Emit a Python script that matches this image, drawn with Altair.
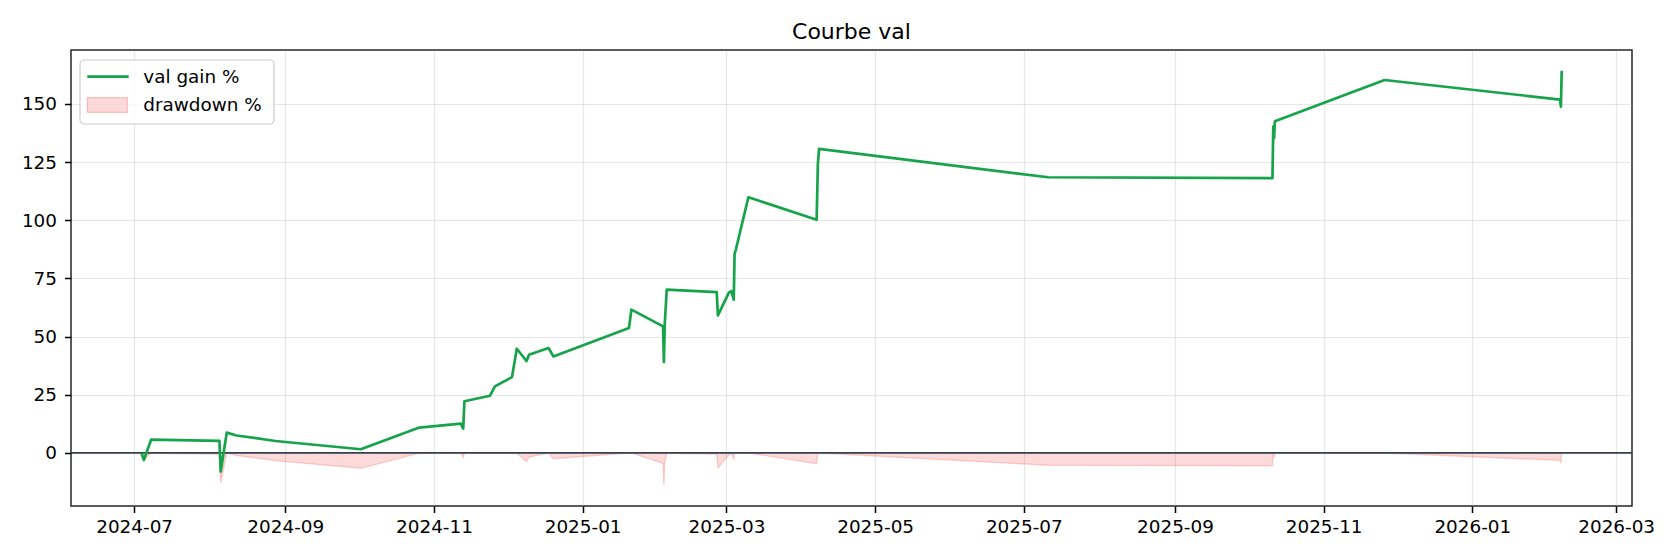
import altair as alt
import pandas as pd

# ---------------- data ----------------
dates = [
    "2024-07-04T00:00:00", "2024-07-05T00:00:00", "2024-07-08T00:00:00",
    "2024-08-05T00:00:00", "2024-08-05T12:00:00", "2024-08-08T00:00:00",
    "2024-08-12T00:00:00", "2024-08-28T00:00:00", "2024-10-02T00:00:00",
    "2024-10-26T00:00:00", "2024-11-12T00:00:00", "2024-11-13T00:00:00",
    "2024-11-13T12:00:00", "2024-11-24T00:00:00", "2024-11-26T00:00:00",
    "2024-12-03T00:00:00", "2024-12-05T00:00:00", "2024-12-09T00:00:00",
    "2024-12-10T00:00:00", "2024-12-18T00:00:00", "2024-12-20T00:00:00",
    "2025-01-20T00:00:00", "2025-01-21T00:00:00", "2025-02-03T00:00:00",
    "2025-02-03T08:00:00", "2025-02-03T16:00:00", "2025-02-04T12:00:00",
    "2025-02-25T00:00:00", "2025-02-25T12:00:00", "2025-03-02T00:00:00",
    "2025-03-03T00:00:00", "2025-03-04T00:00:00", "2025-03-04T08:00:00",
    "2025-03-04T20:00:00", "2025-03-10T00:00:00", "2025-04-07T00:00:00",
    "2025-04-07T12:00:00", "2025-04-08T00:00:00", "2025-07-11T00:00:00",
    "2025-10-11T00:00:00", "2025-10-11T08:00:00", "2025-10-11T16:00:00",
    "2025-10-12T00:00:00", "2025-11-26T00:00:00", "2026-02-06T00:00:00",
    "2026-02-06T08:00:00", "2026-02-06T16:00:00",
]
gain_pct = [
    0.0, -3.0, 5.75,
    5.15, -8.0, 8.75,
    7.5, 5.15, 1.6,
    10.9, 12.6, 10.5,
    22.2, 24.6, 28.6,
    32.6, 44.8, 39.5,
    42.2, 45.1, 41.5,
    53.7, 61.6, 54.4,
    39.1, 55.0, 70.2,
    69.1, 59.1, 68.9,
    69.6, 65.9, 85.6,
    87.3, 109.9, 100.2,
    124.3, 130.7, 118.5,
    118.1, 140.3, 135.3,
    142.6, 160.3, 151.9,
    148.9, 164.3,
]
drawdown_pct = [
    0.0, -3.0, 0.0,
    -0.6, -13.0, 0.0,
    -1.1, -3.3, -6.6,
    0.0, 0.0, -1.9,
    0.0, 0.0, 0.0,
    0.0, 0.0, -3.7,
    -1.8, 0.0, -2.5,
    0.0, 0.0, -4.5,
    -13.9, -4.0, 0.0,
    -0.6, -6.5, -0.8,
    -0.4, -2.5, 0.0,
    0.0, 0.0, -4.6,
    0.0, 0.0, -5.3,
    -5.5, 0.0, -2.1,
    0.0, 0.0, -3.2,
    -4.4, 0.0,
]
x_tick_labels = ["2024-07", "2024-09", "2024-11", "2025-01", "2025-03", "2025-05",
                 "2025-07", "2025-09", "2025-11", "2026-01", "2026-03"]
y_ticks = [0, 25, 50, 75, 100, 125, 150]
legend_labels = ["val gain %", "drawdown %"]
title_text = "Courbe val"

# ---------------- chart ----------------
FONT = "DejaVu Sans"
GREEN = "#16a34a"
RED = "#ef4444"
W, H = 1561, 456

df = pd.DataFrame({"date": dates, "gain": gain_pct, "dd": drawdown_pct})

x_domain = [alt.DateTime(year=2024, month=6, date=5, hours=2, minutes=24),
            alt.DateTime(year=2026, month=3, date=7, hours=12)]
x_vals = [alt.DateTime(year=int(s[:4]), month=int(s[5:]), date=1) for s in x_tick_labels]

x_enc = alt.X("date:T", scale=alt.Scale(domain=x_domain),
              axis=alt.Axis(values=x_vals, format="%Y-%m", formatType="time", title=None,
                            labelAngle=0, labelPadding=5, labelBaseline="top"))
y_scale = alt.Scale(domain=[-22.8, 173.2], nice=False, zero=False)
y_axis = alt.Axis(values=y_ticks, format="d", title=None, labelPadding=8)

base = alt.Chart(df)

area = base.mark_area(color=RED, opacity=0.2, clip=True).encode(
    x=x_enc, y=alt.Y("dd:Q", scale=y_scale, axis=y_axis), y2=alt.datum(0))
area_edge = base.mark_line(color=RED, opacity=0.22, strokeWidth=1.4, clip=True).encode(
    x=x_enc, y=alt.Y("dd:Q", scale=y_scale, axis=y_axis))

one = pd.DataFrame({"k": [0]})
zero_rule = alt.Chart(one).mark_rule(color="#374151", strokeWidth=1.8).encode(
    y=alt.datum(0, scale=y_scale))

line = base.mark_line(color=GREEN, strokeWidth=2.7, strokeJoin="round", clip=True).encode(
    x=x_enc, y=alt.Y("gain:Q", scale=y_scale, axis=y_axis))

# title (as text above the axes)
title = alt.Chart(one).mark_text(align="center", baseline="alphabetic", font=FONT,
                                 fontSize=22, color="black").encode(
    x=alt.value(W / 2), y=alt.value(-11), text=alt.value(title_text))

# legend (decoration, top-left inside the axes)
leg_box = alt.Chart(one).mark_rect(fill="white", fillOpacity=0.8, stroke="#cccccc",
                                   strokeWidth=1.2, cornerRadius=4).encode(
    x=alt.value(9), x2=alt.value(203), y=alt.value(10), y2=alt.value(74))
leg_line = alt.Chart(one).mark_rule(color=GREEN, strokeWidth=2.7).encode(
    x=alt.value(16.3), x2=alt.value(57.7), y=alt.value(26.7))
leg_patch = alt.Chart(one).mark_rect(fill=RED, fillOpacity=0.2, stroke=RED,
                                     strokeOpacity=0.3, strokeWidth=1.2).encode(
    x=alt.value(16.3), x2=alt.value(56.3), y=alt.value(47.7), y2=alt.value(62.3))
leg_t1 = alt.Chart(one).mark_text(align="left", baseline="middle", font=FONT,
                                  fontSize=18.4, color="black").encode(
    x=alt.value(72.3), y=alt.value(27), text=alt.value(legend_labels[0]))
leg_t2 = alt.Chart(one).mark_text(align="left", baseline="middle", font=FONT,
                                  fontSize=18.4, color="black").encode(
    x=alt.value(72.3), y=alt.value(55), text=alt.value(legend_labels[1]))

chart = alt.layer(area, area_edge, zero_rule, line, title,
                  leg_box, leg_line, leg_patch, leg_t1, leg_t2).properties(
    width=W, height=H,
    autosize=alt.AutoSizeParams(type="none"),
    padding={"left": 63, "top": 42, "right": 40, "bottom": 44},
    background="white",
).configure_view(
    stroke="#262626", strokeWidth=1.5
).configure_axis(
    labelFont=FONT, labelFontSize=18.4, labelColor="black",
    tickColor="black", tickSize=6.5, tickWidth=1.5,
    domain=False, grid=True, gridColor="#b0b0b0", gridOpacity=0.3, gridWidth=1.2,
)

chart.save("out.html", embed_options={"renderer": "svg", "actions": False})
